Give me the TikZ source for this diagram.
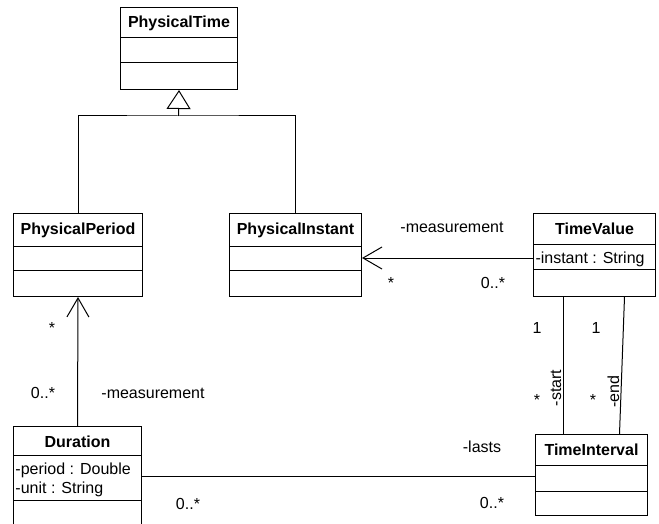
\documentclass[tikz,border=0pt]{standalone}
\usepackage{fontspec}
\setmainfont{Liberation Sans}
\usetikzlibrary{arrows.meta}

\begin{document}
\begin{tikzpicture}[x=1pt, y=-1pt, line width=1pt, font=\fontsize{16}{19}\selectfont,
        umlclass/.style={draw=black, anchor=north west, inner sep=0pt},
        classname/.style={font=\fontsize{16}{19}\selectfont\bfseries, anchor=base, inner sep=0pt},
        attr/.style={anchor=base west, inner sep=0pt},
        mult/.style={anchor=base, inner sep=0pt},
        assoc/.style={-{Straight Barb[length=19pt, width=22pt]}},
        inherit/.style={-{Triangle[open, length=19pt, width=24pt]}}]
            \useasboundingbox (0,0) rectangle (659,524);
            % classes
            \node[umlclass, minimum width=117pt, minimum height=82pt] (ptime) at (120,7) {};
            \node[umlclass, minimum width=129pt, minimum height=83pt] (pperiod) at (13,213) {};
            \node[umlclass, minimum width=132pt, minimum height=83pt] (pinstant) at (229,213) {};
            \node[umlclass, minimum width=122pt, minimum height=83pt] (tvalue) at (533,213) {};
            \node[umlclass, minimum width=128pt, minimum height=100pt] (duration) at (13,426) {};
            \node[umlclass, minimum width=112pt, minimum height=81pt] (tinterval) at (535,434) {};
            \node[classname] (ptime-name) at ([yshift=-21pt]ptime.north) {PhysicalTime};
            \node[classname] (pperiod-name) at ([yshift=-21pt]pperiod.north) {PhysicalPeriod};
            \node[classname] (pinstant-name) at ([yshift=-21pt]pinstant.north) {PhysicalInstant};
            \node[classname] (tvalue-name) at ([yshift=-21pt]tvalue.north) {TimeValue};
            \node[classname] (duration-name) at ([yshift=-21pt]duration.north) {Duration};
            \node[classname] (tinterval-name) at ([yshift=-21pt]tinterval.north) {TimeInterval};
            \draw ([yshift=-31pt]ptime.north west) -- ([yshift=-31pt]ptime.north east);
            \draw ([yshift=-56pt]ptime.north west) -- ([yshift=-56pt]ptime.north east);
            \draw ([yshift=-33pt]pperiod.north west) -- ([yshift=-33pt]pperiod.north east);
            \draw ([yshift=-57pt]pperiod.north west) -- ([yshift=-57pt]pperiod.north east);
            \draw ([yshift=-33pt]pinstant.north west) -- ([yshift=-33pt]pinstant.north east);
            \draw ([yshift=-57pt]pinstant.north west) -- ([yshift=-57pt]pinstant.north east);
            \draw ([yshift=-31pt]tvalue.north west) -- ([yshift=-31pt]tvalue.north east);
            \draw ([yshift=-56pt]tvalue.north west) -- ([yshift=-56pt]tvalue.north east);
            \draw ([yshift=-29pt]duration.north west) -- ([yshift=-29pt]duration.north east);
            \draw ([yshift=-74pt]duration.north west) -- ([yshift=-74pt]duration.north east);
            \draw ([yshift=-31pt]tinterval.north west) -- ([yshift=-31pt]tinterval.north east);
            \draw ([yshift=-57pt]tinterval.north west) -- ([yshift=-57pt]tinterval.north east);
            \node[attr] (tvalue-instant) at ([xshift=2pt, yshift=-50pt]tvalue.north west) {-instant : String};
            \node[attr] (duration-period) at ([xshift=2pt, yshift=-48pt]duration.north west) {-period : Double};
            \node[attr] (duration-unit) at ([xshift=2pt, yshift=-67pt]duration.north west) {-unit : String};
            % generalization
            \coordinate (gen) at (178.5,116);
            \draw (pperiod.north) |- (gen) -- (pinstant.north |- gen) -- (pinstant.north);
            \draw[inherit] (gen) -- (ptime.south);
            % associations
            \coordinate (tv-arm) at ([yshift=-3pt]tvalue.west);
            \draw[assoc] (tv-arm) -- (tv-arm -| pinstant.east);
            \draw[assoc] (duration.north) -- (pperiod.south);
            \draw ([xshift=-31pt]tvalue.south) -- ([xshift=-28pt]tinterval.north);
            \draw ([xshift=30pt]tvalue.south) -- ([xshift=28pt]tinterval.north);
            \draw (duration.east) -- (duration.east -| tinterval.west);
            % roles and multiplicities
            \node[mult] (tv-role) at (452,233) {-measurement};
            \node[mult] (pi-mult) at (391,288) {*};
            \node[mult] (tv-mult) at (493,288) {0..*};
            \node[mult] (start-one) at (537,333) {1};
            \node[mult] (end-one) at (596,333) {1};
            \node[mult] (start-mult) at (537,405) {*};
            \node[mult] (end-mult) at (593,405) {*};
            \node[rotate=90] (start-role) at (556,388) {-start};
            \node[rotate=90] (end-role) at (613.5,391.5) {-end};
            \node[mult] (lasts-role) at (482,452) {-lasts};
            \node[mult] (ti-mult) at (492,508) {0..*};
            \node[mult] (du-mult) at (188,509) {0..*};
            \node[mult] (pp-mult) at (52,333) {*};
            \node[mult] (du-up-mult) at (43,398) {0..*};
            \node[mult] (du-role) at (153,398) {-measurement};
        \end{tikzpicture}
\end{document}
